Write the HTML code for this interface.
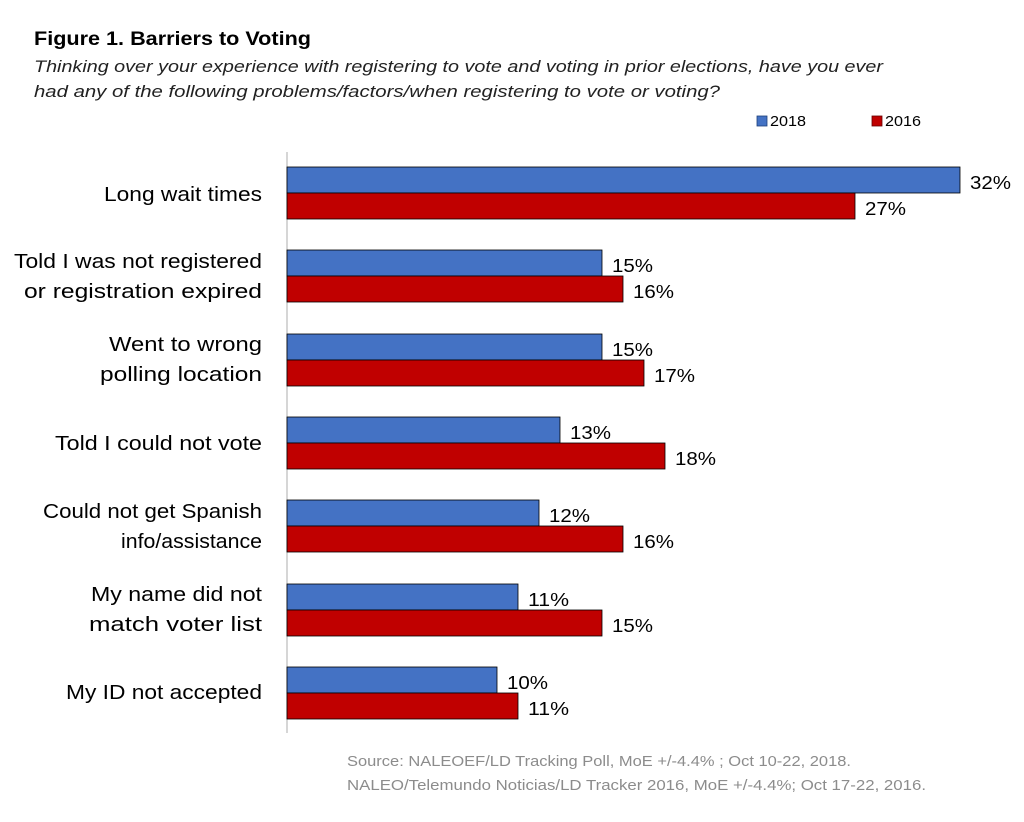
<!DOCTYPE html>
<html><head><meta charset="utf-8"><style>
body{margin:0;background:#fff;width:1024px;height:817px;overflow:hidden;font-family:"Liberation Sans",sans-serif}
</style></head><body>
<svg width="1024" height="817" xmlns="http://www.w3.org/2000/svg" font-family="Liberation Sans, sans-serif">
<text x="34" y="45" font-size="19" font-weight="bold" fill="#000" textLength="277" lengthAdjust="spacingAndGlyphs">Figure 1. Barriers to Voting</text>
<text x="34" y="72" font-size="17" font-style="italic" fill="#222" textLength="849" lengthAdjust="spacingAndGlyphs">Thinking over your experience with registering to vote and voting in prior elections, have you ever</text>
<text x="34" y="97" font-size="17" font-style="italic" fill="#222" textLength="686" lengthAdjust="spacingAndGlyphs">had any of the following problems/factors/when registering to vote or voting?</text>
<rect x="757" y="116" width="10" height="10" fill="#4472c4" stroke="#1f3f7a" stroke-width="0.8"/>
<text x="770" y="126" font-size="15" fill="#000" textLength="36" lengthAdjust="spacingAndGlyphs">2018</text>
<rect x="872" y="116" width="10" height="10" fill="#c00000" stroke="#600" stroke-width="0.8"/>
<text x="885" y="126" font-size="15" fill="#000" textLength="36" lengthAdjust="spacingAndGlyphs">2016</text>
<line x1="287" y1="152" x2="287" y2="733" stroke="#bbb" stroke-width="1.2"/>
<g stroke="#000" stroke-width="0.8">
<rect x="287" y="167" width="673" height="26" fill="#4472c4"/>
<rect x="287" y="193" width="568" height="26" fill="#c00000"/>
<rect x="287" y="250" width="315" height="26" fill="#4472c4"/>
<rect x="287" y="276" width="336" height="26" fill="#c00000"/>
<rect x="287" y="334" width="315" height="26" fill="#4472c4"/>
<rect x="287" y="360" width="357" height="26" fill="#c00000"/>
<rect x="287" y="417" width="273" height="26" fill="#4472c4"/>
<rect x="287" y="443" width="378" height="26" fill="#c00000"/>
<rect x="287" y="500" width="252" height="26" fill="#4472c4"/>
<rect x="287" y="526" width="336" height="26" fill="#c00000"/>
<rect x="287" y="584" width="231" height="26" fill="#4472c4"/>
<rect x="287" y="610" width="315" height="26" fill="#c00000"/>
<rect x="287" y="667" width="210" height="26" fill="#4472c4"/>
<rect x="287" y="693" width="231" height="26" fill="#c00000"/>
</g>
<g font-size="18" fill="#000">
<text x="970" y="189" textLength="41" lengthAdjust="spacingAndGlyphs">32%</text><text x="865" y="215" textLength="41" lengthAdjust="spacingAndGlyphs">27%</text>
<text x="612" y="272" textLength="41" lengthAdjust="spacingAndGlyphs">15%</text><text x="633" y="298" textLength="41" lengthAdjust="spacingAndGlyphs">16%</text>
<text x="612" y="356" textLength="41" lengthAdjust="spacingAndGlyphs">15%</text><text x="654" y="382" textLength="41" lengthAdjust="spacingAndGlyphs">17%</text>
<text x="570" y="439" textLength="41" lengthAdjust="spacingAndGlyphs">13%</text><text x="675" y="465" textLength="41" lengthAdjust="spacingAndGlyphs">18%</text>
<text x="549" y="522" textLength="41" lengthAdjust="spacingAndGlyphs">12%</text><text x="633" y="548" textLength="41" lengthAdjust="spacingAndGlyphs">16%</text>
<text x="528" y="606" textLength="41" lengthAdjust="spacingAndGlyphs">11%</text><text x="612" y="632" textLength="41" lengthAdjust="spacingAndGlyphs">15%</text>
<text x="507" y="689" textLength="41" lengthAdjust="spacingAndGlyphs">10%</text><text x="528" y="715" textLength="41" lengthAdjust="spacingAndGlyphs">11%</text>
</g>
<g font-size="20.5" fill="#000">
<text x="104" y="201" textLength="158" lengthAdjust="spacingAndGlyphs">Long wait times</text>
<text x="14" y="268" textLength="248" lengthAdjust="spacingAndGlyphs">Told I was not registered</text>
<text x="24" y="298" textLength="238" lengthAdjust="spacingAndGlyphs">or registration expired</text>
<text x="109" y="351" textLength="153" lengthAdjust="spacingAndGlyphs">Went to wrong</text>
<text x="100" y="381" textLength="162" lengthAdjust="spacingAndGlyphs">polling location</text>
<text x="55" y="450" textLength="207" lengthAdjust="spacingAndGlyphs">Told I could not vote</text>
<text x="43" y="518" textLength="219" lengthAdjust="spacingAndGlyphs">Could not get Spanish</text>
<text x="121" y="548" textLength="141" lengthAdjust="spacingAndGlyphs">info/assistance</text>
<text x="91" y="601" textLength="171" lengthAdjust="spacingAndGlyphs">My name did not</text>
<text x="89" y="631" textLength="173" lengthAdjust="spacingAndGlyphs">match voter list</text>
<text x="66" y="699" textLength="196" lengthAdjust="spacingAndGlyphs">My ID not accepted</text>
</g>
<text x="347" y="766" font-size="14.5" fill="#8c8c8c" textLength="504" lengthAdjust="spacingAndGlyphs">Source: NALEOEF/LD Tracking Poll, MoE +/-4.4% ; Oct 10-22, 2018.</text>
<text x="347" y="790" font-size="14.5" fill="#8c8c8c" textLength="579" lengthAdjust="spacingAndGlyphs">NALEO/Telemundo Noticias/LD Tracker 2016, MoE +/-4.4%; Oct 17-22, 2016.</text>
</svg>
</body></html>
